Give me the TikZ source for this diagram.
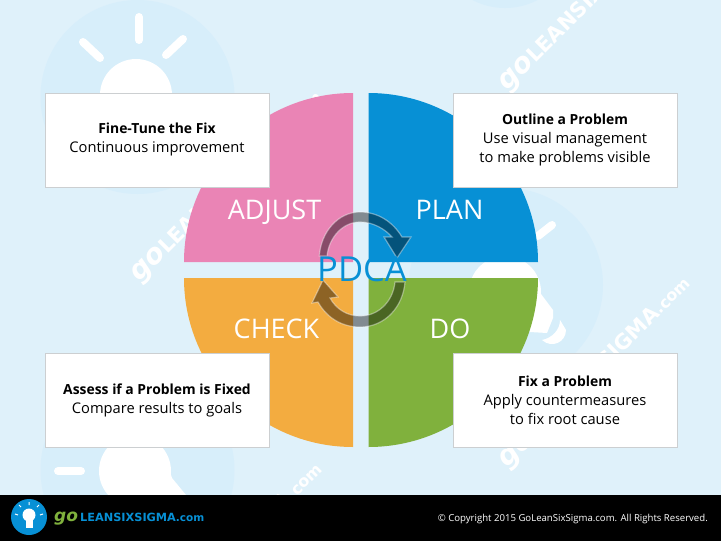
\documentclass[tikz,border=0pt]{standalone}
\usepackage{fontspec}
\setmainfont{Open Sans}
\newfontfamily\wmfont{DejaVu Sans}
\definecolor{bgblue}{HTML}{DFF1FA}
\definecolor{halo}{HTML}{D7EEFA}
\definecolor{pinkq}{HTML}{EA84B5}
\definecolor{blueq}{HTML}{0790D5}
\definecolor{orangeq}{HTML}{F3AC40}
\definecolor{greenq}{HTML}{80B13D}
\definecolor{boxedge}{HTML}{CCCFD1}
\tikzset{
  x=1pt,y=-1pt,
  infobox/.style={draw=boxedge,line width=1pt,fill=white,minimum width=224pt,minimum height=94pt,inner sep=0pt,align=center,text=black,font=\fontsize{14.7}{19}\selectfont},
  quadlabel/.style={text=white,font=\fontsize{27}{28}\selectfont,anchor=base,inner sep=0pt},
  ray/.style={white,line width=8pt,line cap=round},
  wmark/.style={text=white,rotate=45,inner sep=0pt,font=\wmfont\bfseries\fontsize{21}{22}\selectfont},
  ringarrow/.style={fill=black,fill opacity=.42,draw=white,draw opacity=.4,line width=1.2pt},
}
\newcommand{\wmtext}{{\itshape\fontsize{28}{28}\selectfont go}LEANSIXSIGMA{\fontsize{16}{16}\selectfont.com}}
\newcommand{\hd}[1]{{\bfseries\fontsize{13.9}{19}\selectfont #1}}
\begin{document}
\begin{tikzpicture}
\useasboundingbox (0,0) rectangle (721,541);
\fill[bgblue] (0,0) rectangle (721,541);
\begin{scope}
\clip (0,0) rectangle (721,495);
% halos
\fill[halo] (137.5,97) circle (97);
\fill[halo] (137.5,470) circle (97);
\fill[halo] (506,285) circle (97);
\fill[halo] (505,-62) circle (70);
% bulb top-left
\draw[ray] (139,17) -- (139,40);
\draw[ray] (83,42) -- (100,58);
\draw[ray] (183,39) -- (166,55);
\fill[white] (136,95) circle (36);
% bulb bottom-left
\draw[ray] (58,471) -- (81,471);
\fill[white] (135,471) circle (36);
\fill[white] (112,495) -- (160,440) -- (172,478) -- (186,495) -- cycle;
% bulb right
\draw[ray] (538,236) -- (552,225);
\fill[white] (505,292) circle (36);
\fill[white] (525,320) -- (538,290) -- (553,310) -- (553,318) -- (547,333) -- (530,332) -- cycle;
\fill[white] (542,340) .. controls (552,338) and (560,330) .. (560,320) -- (566,330) .. controls (566,342) and (552,349) .. (542,340) -- cycle;
% watermarks
\node[wmark] (wm1) at (596,-4) {\wmtext};
\node[wmark] (wm2) at (228,187) {\wmtext};
\node[wmark] (wm3) at (596,373) {\wmtext};
\node[wmark] (wm4) at (228,559) {\wmtext};
\end{scope}
% quadrants
\fill[pinkq] (353,262) -- (184,262) .. controls (184,168.7) and (259.7,93) .. (353,93) -- cycle;
\fill[blueq] (368.5,262) -- (368.5,93) .. controls (462,93) and (538,168.7) .. (538,262) -- cycle;
\fill[orangeq] (353,278) -- (353,447) .. controls (259.7,447) and (184,371.3) .. (184,278) -- cycle;
\fill[greenq] (368.5,278) -- (538,278) .. controls (538,371.3) and (462,447) .. (368.5,447) -- cycle;
% quadrant labels
\node[quadlabel] (adjust) at (274.5,219) {ADJUST};
\node[quadlabel] (plan) at (449.5,219) {PLAN};
\node[quadlabel] (check) at (276.5,338) {CHECK};
\node[quadlabel] (do) at (450,338) {DO};
% cycle arrows
\path[ringarrow]
  (319.3,256) .. controls (321,232) and (338,212) .. (360,212)
  .. controls (378,212) and (393,222) .. (402,237)
  -- (411,237) -- (397,258) -- (384,237) -- (392,237)
  .. controls (385,229) and (373,222) .. (360,222)
  .. controls (343,222) and (329,237) .. (327,256) -- cycle;
\path[ringarrow]
  (405,282) .. controls (403,307) and (385,327) .. (360,327)
  .. controls (342,327) and (327,318) .. (318,302)
  -- (312,303) -- (323,280) -- (338,297) -- (330,298)
  .. controls (336,309) and (347,316) .. (360,316)
  .. controls (378,316) and (393,302) .. (395,282) -- cycle;
\node[text=blueq,font=\fontsize{34.5}{35}\selectfont,inner sep=0pt,anchor=base] (pdca) at (362,281) {PDCA};
% boxes
\node[infobox] (fine) at (157,140) {\hd{Fine-Tune the Fix}\\Continuous improvement\\[-14pt]};
\node[infobox] (outline) at (565,140) {\hd{Outline a Problem}\\Use visual management\\to make problems visible};
\node[infobox] (assess) at (157,400) {\hd{Assess if a Problem is Fixed}\\Compare results to goals};
\node[infobox] (fix) at (565,400) {\hd{Fix a Problem}\\Apply countermeasures\\to fix root cause};
% footer
\fill[black] (0,495) rectangle (721,541);
\fill[blueq] (29,517) circle (18);
\fill[white] (29,515) circle (6.5);
\fill[white] (25.5,520) rectangle (32.5,528);
\draw[white,line width=1pt] (29,502) -- (29,505) (19,505) -- (21,507) (39,505) -- (37,507) (15,514) -- (18,515) (43,514) -- (40,515);
\node[anchor=base west,inner sep=0pt,text=greenq,font=\wmfont\bfseries\itshape\fontsize{17}{18}\selectfont] (go) at (54,521) {go};
\node[anchor=base west,inner sep=0pt,text=blueq,font=\wmfont\bfseries\fontsize{11.3}{12}\selectfont] (lss) at (80,521) {LEANSIXSIGMA{\fontsize{10.5}{11}\selectfont.com}};
\node[anchor=base east,inner sep=0pt,text=white,font=\fontsize{9.6}{10}\selectfont] (copy) at (708,521) {© Copyright 2015 GoLeanSixSigma.com. All Rights Reserved.};
\end{tikzpicture}
\end{document}
